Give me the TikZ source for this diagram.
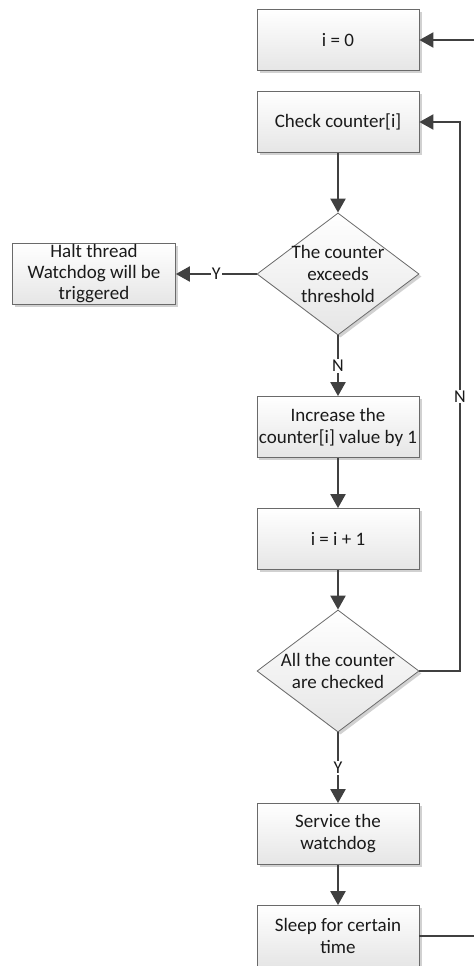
\documentclass[tikz,border=0pt]{standalone}
\usepackage{fontspec}
\setmainfont{Carlito}
\usetikzlibrary{shapes.geometric,arrows.meta,shadows}
\definecolor{linec}{HTML}{404040}
\definecolor{edgec}{HTML}{6A6A6A}
\definecolor{txtc}{HTML}{1A1A1A}
\begin{document}
\begin{tikzpicture}[x=1pt,y=-1pt,
  boxshadow/.style={drop shadow={shadow xshift=2.5pt,shadow yshift=-2.5pt,fill=black!30,opacity=0.6}},
  proc/.style={rectangle,draw=edgec,line width=0.8pt,top color=white,bottom color=black!10,
    minimum width=162pt,minimum height=61pt,inner xsep=2pt,inner ysep=0pt,align=center,
    text=txtc,font=\fontsize{19}{22}\selectfont,boxshadow},
  decision/.style={diamond,draw=edgec,line width=0.8pt,top color=white,bottom color=black!10,
    minimum width=162pt,minimum height=122pt,inner sep=0pt,boxshadow},
  dtext/.style={align=center,text=txtc,font=\fontsize{19}{22}\selectfont,inner sep=0pt},
  flow/.style={draw=linec,line width=2.3pt,-{Triangle[length=14pt,width=15pt]}},
  plain/.style={draw=linec,line width=2.3pt},
  yn/.style={fill=white,inner sep=1pt,text=txtc,font=\fontsize{18}{20}\selectfont}]

\useasboundingbox (0,0) rectangle (474,966);

% process boxes and decisions
\node[proc] (i0) at (338,40) {i = 0};
\node[proc] (chk) at (338,122) {Check counter[i]};
\node[decision] (d1) at (338,274) {};
\node[dtext] (d1t) at (d1.center) {The counter\\exceeds\\threshold};
\node[proc,minimum width=163pt,font=\fontsize{19}{21}\selectfont] (halt) at (94,274) {Halt thread\\Watchdog will be\\triggered};
\node[proc] (inc) at (338,427) {Increase the\\counter[i] value by 1};
\node[proc] (iinc) at (338,539) {i = i + 1};
\node[decision] (d2) at (338,671) {};
\node[dtext] (d2t) at (d2.center) {All the counter\\are checked};
\node[proc] (svc) at (338,834) {Service the\\watchdog};
\node[proc] (slp) at (338,936) {Sleep for certain\\time};

% free ends of the outer loop
\coordinate (topin) at (474,40);
\coordinate (botout) at (474,936);
\coordinate (loopx) at (460,0);

% connectors
\draw[flow] (topin) -- (i0.east);
\draw[flow] (chk.south) -- (d1.north);
\draw[flow] (d1.west) -- node[yn] {Y} (halt.east);
\draw[flow] (d1.south) -- node[yn] {N} (inc.north);
\draw[flow] (inc.south) -- (iinc.north);
\draw[flow] (iinc.south) -- (d2.north);
\draw[flow] (d2.south) -- node[yn] {Y} (svc.north);
\draw[flow] (svc.south) -- (slp.north);
\draw[plain] (slp.east) -- (botout);
\draw[flow] (d2.east) -- (d2.east -| loopx) -- node[yn] {N} (chk.east -| loopx) -- (chk.east);
\end{tikzpicture}
\end{document}
